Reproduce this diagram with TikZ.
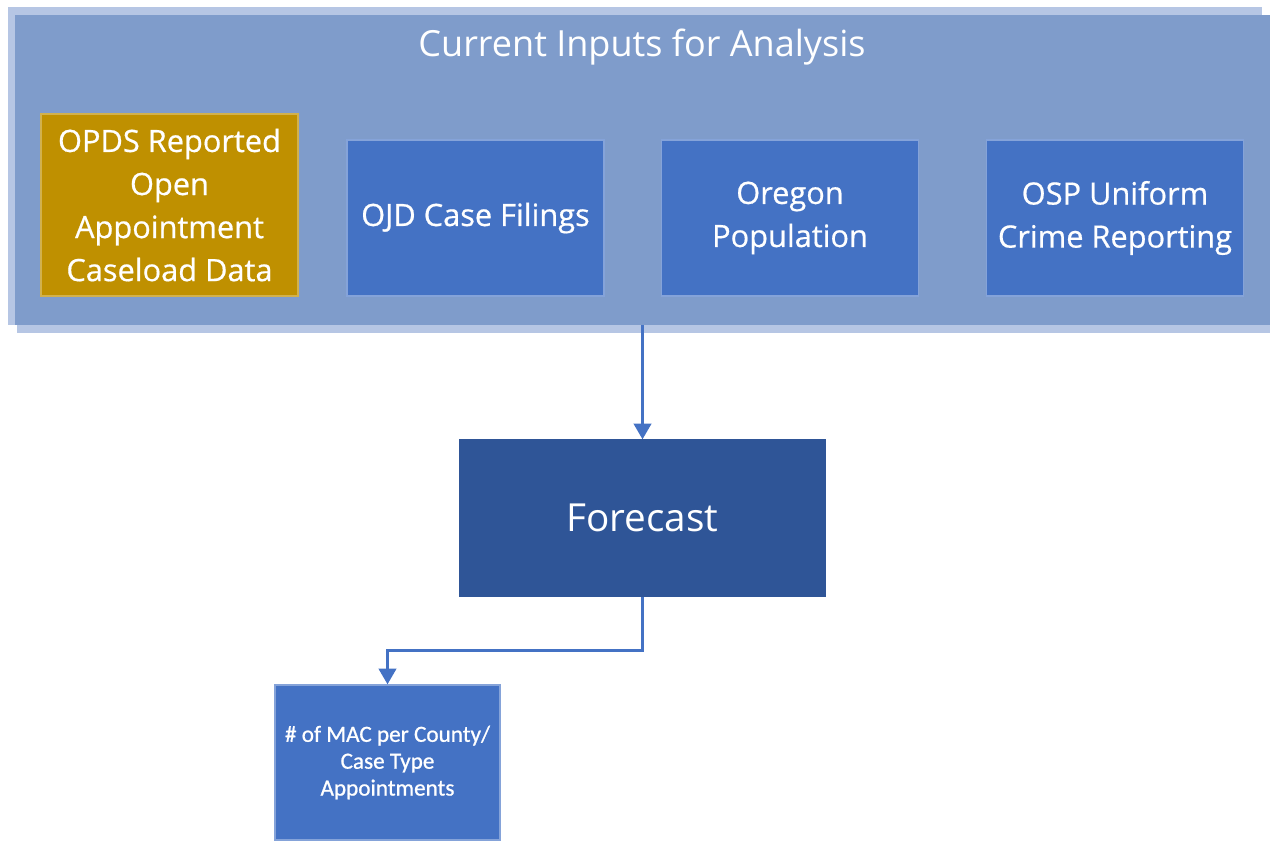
\documentclass[tikz,border=0pt]{standalone}
\usepackage{fontspec}
\setmainfont{Open Sans}
\newfontfamily\boxfont{Open Sans}[FakeBold=0.6]
\newfontfamily\calfont{Carlito}[FakeBold=0.8]
\usetikzlibrary{arrows.meta}

\definecolor{panelblue}{RGB}{127,156,203}
\definecolor{paneledge}{RGB}{182,198,228}
\definecolor{boxblue}{RGB}{68,114,196}
\definecolor{boxgold}{RGB}{191,144,0}
\definecolor{darkblue}{RGB}{47,85,151}

\tikzset{
  inbox/.style={rectangle, fill=boxblue, draw=white!35!boxblue, line width=0.8pt,
    text=white, align=center, inner sep=0pt,
    minimum width=5.14cm, minimum height=3.12cm,
    font=\boxfont\fontsize{17.5}{24.5}\selectfont},
  flow/.style={draw=boxblue, line width=1.6pt, -{Triangle[width=10pt,length=9pt]}}
}

\begin{document}
\begin{tikzpicture}[x=0.02cm,y=-0.02cm]
   \useasboundingbox (0,0) rectangle (1270,855);

   % panel with its light rim
   \fill[paneledge] (8,7) rectangle (1262,325);
   \fill[paneledge] (17,15) rectangle (1270,333);
   \node[rectangle, fill=panelblue, inner sep=0pt, minimum width=25.1cm,
         minimum height=6.2cm] (inputs) at (642.5,170) {};
   \node[text=white, font=\fontsize{20.5}{24}\selectfont] (title) at (642,47)
        {Current Inputs for Analysis};

   % the four inputs
   \node[inbox, fill=boxgold, draw=white!30!boxgold, minimum height=3.64cm]
        (opds) at (169.5,205) {OPDS Reported\\Open\\Appointment\\Caseload Data};
   \node[inbox] (ojd) at (475.5,218) {OJD Case Filings};
   \node[inbox] (oregon) at (790,218) {Oregon\\Population};
   \node[inbox] (osp) at (1115,218) {OSP Uniform\\Crime Reporting};

   \node[inbox, fill=darkblue, draw=darkblue, minimum width=7.3cm,
         font=\fontsize{22}{26}\selectfont] (forecast) at (642.5,518) {Forecast};

   \node[inbox, minimum width=4.5cm, minimum height=3.1cm,
         font=\calfont\fontsize{13.2}{15.3}\selectfont]
        (result) at (387.5,762.5) {\# of MAC per County/\\Case Type\\Appointments};

   \draw[flow] (inputs.south) -- (forecast.north);
   \draw[flow] (forecast.south) -- ++(0,54) -| (result.north);
\end{tikzpicture}
\end{document}
